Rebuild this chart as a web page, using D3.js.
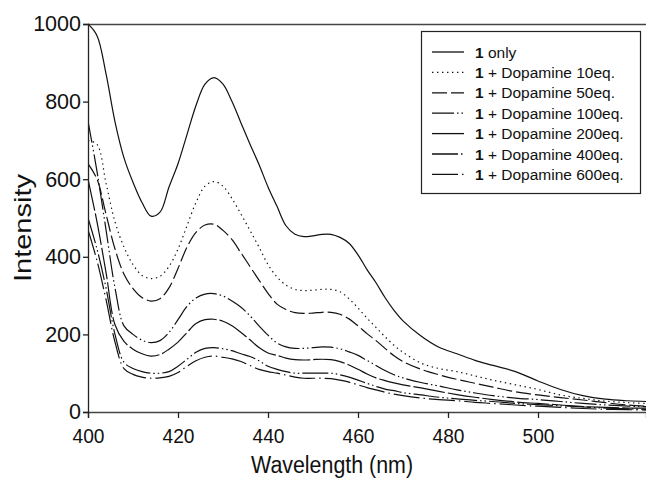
<!DOCTYPE html>
<html><head><meta charset="utf-8">
<script src="https://cdn.jsdelivr.net/npm/d3@7"></script>
<style>
html,body{margin:0;padding:0;background:#fff;}
svg{display:block;font-family:"Liberation Sans",Arial,sans-serif;}
</style></head>
<body><svg id="chart" width="646" height="479"></svg>
<script>
const wavelengths = [400,402,404,406,408,410,412,414,416,418,420,422,424,426,428,430,432,434,436,438,440,442,444,446,448,450,452,454,456,458,460,462,464,466,468,470,474,478,482,486,490,495,500,505,510,515,520,524];
const only   = [1000,970,872,748,655,592,540,505,515,580,640,715,790,845,862,845,800,745,690,638,580,530,480,458,452,454,458,458,450,435,405,367,333,295,262,235,196,167,150,133,120,104,80,58,42,33,29,27];
const dop10  = [700,690,590,490,425,380,352,344,350,375,420,480,540,582,594,582,550,510,468,425,380,348,327,316,313,314,316,316,310,292,268,242,218,194,172,154,126,112,104,93,82,70,58,44,35,28,24,22];
const dop50  = [640,600,510,420,355,318,295,286,292,320,370,425,463,482,484,468,444,410,375,340,306,278,264,256,254,255,257,257,252,240,222,202,184,164,145,130,110,96,84,74,64,52,44,37,31,24,18,15];
const dop100 = [750,620,470,320,222,200,185,179,184,205,238,272,294,304,305,299,286,270,248,222,198,178,168,164,164,166,168,167,163,155,146,133,120,107,96,88,76,67,57,49,42,36,32,27,22,18,15,14];
const dop200 = [600,490,360,225,182,162,150,144,148,162,180,205,228,238,239,234,222,205,186,166,152,146,139,135,134,135,136,135,130,121,110,98,88,81,75,70,62,53,45,38,32,26,22,18,14,12,10,10];
const dop400 = [500,420,320,200,128,112,104,100,100,104,118,136,154,164,166,163,158,150,143,132,118,110,104,100,100,100,100,100,96,90,82,74,66,59,55,50,44,38,34,30,27,22,19,16,13,10,8,7];
const dop600 = [470,390,290,180,112,97,90,87,88,92,102,118,132,141,144,141,137,130,120,110,104,100,95,90,87,87,87,86,82,77,70,63,57,51,46,42,36,32,29,25,22,18,15,12,9,7,6,5];

const seriesNames = ["only","+ Dopamine 10eq.","+ Dopamine 50eq.","+ Dopamine 100eq.","+ Dopamine 200eq.","+ Dopamine 400eq.","+ Dopamine 600eq."];
const seriesValues = [only,dop10,dop50,dop100,dop200,dop400,dop600];
const dashes = [null,"1.4,3.6","15,4","22,3,1.5,3,1.5,3","32,3","26,3,1.5,3,1.5,3","26,4,1.5,4"];
const xTicks = [400,420,440,460,480,500];
const yTicks = [0,200,400,600,800,1000];

const svg = d3.select("#chart");
const L = 88, R = 646, T = 24, B = 412;
const x = d3.scaleLinear().domain([400,524]).range([L,R]);
const y = d3.scaleLinear().domain([0,1000]).range([B,T]);

svg.append("defs").append("clipPath").attr("id","clip")
  .append("rect").attr("x",L).attr("y",T-2).attr("width",R-L).attr("height",B-T+4);

// frame top line
svg.append("line").attr("x1",L).attr("x2",R).attr("y1",T+0.5).attr("y2",T+0.5)
  .attr("stroke","#444").attr("stroke-width",1.3);

// curves
const line = d3.line().x((d,i)=>x(wavelengths[i])).y(d=>y(d)).curve(d3.curveCatmullRom.alpha(0.5));
const g = svg.append("g").attr("clip-path","url(#clip)");
seriesValues.forEach((vals,k)=>{
  g.append("path").attr("d",line(vals)).attr("fill","none")
   .attr("stroke","#111").attr("stroke-width",1.2)
   .attr("stroke-dasharray",dashes[k]);
});

// axes
const xAxis = svg.append("g").attr("transform",`translate(0,${B})`)
  .call(d3.axisBottom(x).tickValues(xTicks).tickSize(6).tickPadding(4).tickFormat(d3.format("d")));
xAxis.select(".domain").attr("stroke","#444").attr("stroke-width",1.3);
xAxis.selectAll(".tick line").attr("stroke","#222").attr("stroke-width",1.3);
xAxis.selectAll(".tick text").attr("font-size",20).attr("fill","#111")
  .attr("dy",null).attr("y",31)
  .attr("textLength",32).attr("lengthAdjust","spacingAndGlyphs")
  .attr("font-family","Liberation Sans, Arial, sans-serif");

const yAxis = svg.append("g").attr("transform",`translate(${L},0)`)
  .call(d3.axisLeft(y).tickValues(yTicks).tickSize(5).tickPadding(2).tickFormat(d3.format("d")));
yAxis.select(".domain").attr("stroke","#222").attr("stroke-width",1.3);
yAxis.selectAll(".tick line").attr("stroke","#222").attr("stroke-width",1.3);
yAxis.selectAll(".tick text").attr("font-size",21.5).attr("fill","#111")
  .attr("font-family","Liberation Sans, Arial, sans-serif");

// axis titles
svg.append("text").attr("x",332).attr("y",473).attr("text-anchor","middle")
  .attr("font-size",23).attr("fill","#111")
  .attr("textLength",162).attr("lengthAdjust","spacingAndGlyphs")
  .text("Wavelength (nm)");
svg.append("text").attr("transform","translate(31,228) rotate(-90)")
  .attr("text-anchor","middle").attr("font-size",24).attr("fill","#111")
  .attr("textLength",108).attr("lengthAdjust","spacingAndGlyphs")
  .text("Intensity");

// legend
const lg = svg.append("g");
lg.append("rect").attr("x",421.5).attr("y",31.5).attr("width",219).attr("height",162)
  .attr("fill","#fff").attr("stroke","#222").attr("stroke-width",1.2);
seriesNames.forEach((name,k)=>{
  const yy = 52 + k*20.4;
  lg.append("line").attr("x1",432).attr("x2",464).attr("y1",yy).attr("y2",yy)
    .attr("stroke","#111").attr("stroke-width",1.3).attr("stroke-dasharray",dashes[k]);
  const t = lg.append("text").attr("x",475).attr("y",yy+5.5).attr("font-size",15.5).attr("fill","#111");
  t.append("tspan").attr("font-weight","bold").text("1");
  t.append("tspan").text(" " + name);
});
</script></body></html>
